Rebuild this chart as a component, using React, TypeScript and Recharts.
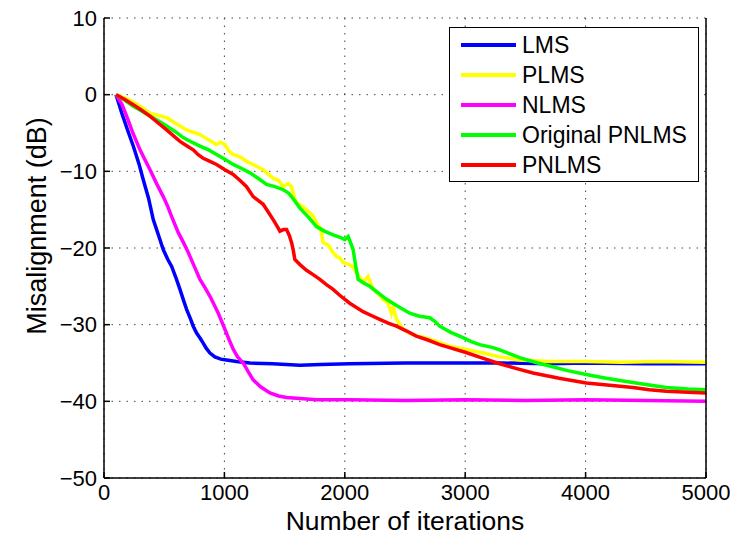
import React from 'react';
import { LineChart, Line, XAxis, YAxis, CartesianGrid, Legend, Label } from 'recharts';

const iterTicks = [0, 1000, 2000, 3000, 4000, 5000];
const dbTicks = [-50, -40, -30, -20, -10, 0, 10];

const lmsCurve: [number, number][] = [
  [100, 0], [150, -2.5], [200, -4.8], [243, -6.7], [290, -9], [326, -11.1], [370, -13.5], [409, -16.3],
  [450, -18.2], [492, -20.2], [530, -21.5], [562, -22.4], [600, -24], [631, -25.4], [660, -26.8],
  [686, -28], [720, -29.3], [741, -30.2], [769, -31.1], [800, -31.8], [824, -32.4], [850, -33.1],
  [880, -33.7], [921, -34.2], [970, -34.5], [1018, -34.6], [1100, -34.8], [1212, -35.0], [1400, -35.1],
  [1627, -35.3], [1800, -35.2], [2041, -35.1], [2500, -35.0], [3000, -35.0], [3300, -35.0],
  [3700, -35.1], [4000, -35.0], [4500, -35.1], [5000, -35.1],
];

const plmsCurve: [number, number][] = [
  [100, 0], [200, -0.6], [300, -1.5], [382, -2.4], [450, -2.7], [520, -3.0], [600, -3.8], [686, -4.6],
  [740, -4.9], [797, -5.2], [860, -5.8], [935, -6.5], [970, -6.2], [1004, -6.5], [1040, -7.4],
  [1073, -7.8], [1130, -8.1], [1184, -8.7], [1250, -9.2], [1322, -9.8], [1360, -10.3], [1405, -10.9],
  [1450, -11.2], [1488, -12.0], [1530, -11.6], [1558, -12.0], [1580, -13.3], [1599, -14.1],
  [1650, -14.6], [1710, -15.4], [1740, -15.9], [1765, -16.7], [1800, -17.5], [1820, -19.3],
  [1860, -19.6], [1903, -20.6], [1931, -21.1], [1960, -21.3], [1986, -21.9], [2041, -22.2],
  [2070, -22.5], [2097, -23.2], [2152, -24.5], [2193, -23.7], [2235, -25.4], [2280, -26.0],
  [2318, -26.7], [2359, -27.2], [2387, -28.5], [2400, -27.6], [2429, -29.3], [2484, -30.6],
  [2540, -31.1], [2594, -31.5], [2650, -31.6], [2705, -31.9], [2800, -32.4], [2871, -32.8],
  [3000, -33.2], [3150, -33.7], [3286, -34.2], [3450, -34.6], [3700, -34.8], [4000, -34.8],
  [4300, -34.9], [4600, -34.8], [5000, -34.9],
];

const nlmsCurve: [number, number][] = [
  [100, 0], [150, -1.3], [188, -2.8], [240, -5], [299, -7.2], [340, -8.5], [382, -9.8], [440, -11.7],
  [492, -13.3], [530, -14.6], [562, -15.9], [617, -18.0], [660, -19.3], [700, -20.6], [750, -22.4],
  [797, -24.1], [840, -25.2], [880, -26.3], [915, -27.4], [949, -28.5], [1004, -30.6], [1040, -32],
  [1073, -33.2], [1110, -34.2], [1156, -35.0], [1200, -36.2], [1239, -37.2], [1300, -38.1],
  [1378, -38.9], [1450, -39.3], [1516, -39.5], [1765, -39.8], [2041, -39.8], [2500, -39.9],
  [3000, -39.8], [3500, -39.9], [4000, -39.8], [4500, -39.9], [5000, -40.0],
];

const origPnlmsCurve: [number, number][] = [
  [100, 0], [170, -0.7], [243, -1.5], [310, -2.1], [382, -2.8], [450, -3.4], [520, -4.1], [590, -4.8],
  [658, -5.6], [730, -6.2], [797, -6.7], [870, -7.2], [935, -7.8], [1000, -8.4], [1073, -9.1],
  [1140, -9.6], [1212, -10.2], [1280, -10.9], [1350, -11.7], [1420, -12.0], [1488, -12.4],
  [1530, -12.8], [1558, -13.3], [1600, -14.2], [1627, -14.8], [1700, -16.0], [1765, -17.2],
  [1830, -17.8], [1903, -18.3], [1960, -18.6], [2000, -18.9], [2028, -18.5], [2050, -19.4],
  [2069, -20.2], [2090, -22.3], [2111, -24.1], [2160, -24.6], [2207, -25.0], [2280, -25.9],
  [2346, -26.7], [2440, -27.6], [2539, -28.5], [2620, -28.9], [2705, -29.1], [2750, -29.6],
  [2788, -30.2], [2880, -31.0], [2982, -31.7], [3050, -32.2], [3120, -32.6], [3231, -33.0],
  [3286, -33.3], [3452, -34.3], [3580, -34.9], [3701, -35.4], [3850, -36.0], [4006, -36.5],
  [4170, -37.0], [4338, -37.4], [4500, -37.8], [4670, -38.2], [4850, -38.4], [5000, -38.5],
];

const pnlmsCurve: [number, number][] = [
  [100, 0], [170, -0.6], [243, -1.3], [310, -2.0], [382, -2.8], [450, -3.7], [520, -4.6], [580, -5.4],
  [631, -6.1], [690, -6.7], [741, -7.2], [780, -7.8], [824, -8.3], [880, -8.7], [935, -9.1],
  [1004, -9.8], [1073, -10.4], [1130, -11.2], [1184, -12.0], [1239, -13.3], [1280, -13.8],
  [1322, -14.3], [1360, -15.2], [1405, -16.3], [1440, -17.2], [1461, -17.8], [1490, -17.6],
  [1516, -17.6], [1540, -18.4], [1558, -19.3], [1571, -20.2], [1585, -21.5], [1630, -22.2],
  [1682, -22.9], [1740, -23.5], [1793, -24.1], [1850, -24.8], [1903, -25.4], [1960, -26.2],
  [2041, -27.2], [2100, -27.8], [2152, -28.3], [2220, -28.8], [2290, -29.3], [2360, -29.8],
  [2429, -30.2], [2510, -30.8], [2594, -31.5], [2690, -32.0], [2788, -32.6], [2871, -33.0],
  [3000, -33.6], [3150, -34.4], [3286, -35.1], [3420, -35.7], [3563, -36.3], [3780, -37.0],
  [4006, -37.6], [4200, -37.9], [4393, -38.2], [4530, -38.5], [4670, -38.7], [4850, -38.8],
  [5000, -38.9],
];

const seriesNames = ['LMS', 'PLMS', 'NLMS', 'Original PNLMS', 'PNLMS'];
const seriesColors = ['#0000FF', '#FFFF00', '#FF00FF', '#00FF00', '#FF0000'];
const seriesCurves = [lmsCurve, plmsCurve, nlmsCurve, origPnlmsCurve, pnlmsCurve];

const toPoints = (c: [number, number][]) => c.map(([iter, db]) => ({ iter, db }));

const FONT = '"Liberation Sans", Arial, Helvetica, sans-serif';

const fmtDb = (v: number) => (v < 0 ? '\u2212' + Math.abs(v) : String(v));

const LegendBox = () => (
  <div
    style={{
      width: 248,
      height: 153,
      border: '1.5px solid #000',
      background: '#fff',
      boxSizing: 'content-box',
      position: 'relative',
      fontFamily: FONT,
    }}
  >
    {seriesNames.map((n, i) => (
      <div
        key={n}
        style={{ position: 'absolute', left: 0, top: 2 + i * 30, height: 30, display: 'flex', alignItems: 'center' }}
      >
        <div style={{ marginLeft: 11, width: 55, height: 4, background: seriesColors[i] }} />
        <span style={{ marginLeft: 6, fontSize: 23, color: '#000', lineHeight: '30px' }}>{n}</span>
      </div>
    ))}
  </div>
);

export default function App() {
  return (
    <div style={{ width: 738, height: 537, background: '#fff', margin: '-8px 0 0 -8px' }}>
      <LineChart
        width={738}
        height={537}
        margin={{ top: 18, right: 31, bottom: 9, left: 0 }}
        style={{ fontFamily: FONT }}
      >
        <CartesianGrid
          xAxisId="b"
          yAxisId="l"
          stroke="#444"
          strokeDasharray="1.5 6"
          strokeWidth={1}
          horizontalValues={dbTicks}
          verticalValues={iterTicks}
        />
        <XAxis
          xAxisId="b"
          dataKey="iter"
          type="number"
          domain={[0, 5000]}
          ticks={iterTicks}
          allowDataOverflow
          orientation="bottom"
          height={50}
          tickSize={-6}
          tickMargin={12}
          axisLine={{ stroke: '#000', strokeWidth: 1.5 }}
          tickLine={{ stroke: '#000', strokeWidth: 1.5 }}
          tick={{ fill: '#000', fontSize: 22, fontFamily: FONT }}
          interval={0}
        >
          <Label
            content={({ viewBox }: any) => (
              <text
                x={viewBox.x + viewBox.width / 2}
                y={viewBox.y + 52}
                textAnchor="middle"
                fontSize={26.5}
                fontFamily={FONT}
                fill="#000"
              >
                Number of iterations
              </text>
            )}
          />
        </XAxis>
        <XAxis
          xAxisId="t"
          dataKey="iter"
          type="number"
          domain={[0, 5000]}
          ticks={iterTicks}
          orientation="top"
          height={0}
          tickSize={-6}
          axisLine={{ stroke: '#000', strokeWidth: 1.5 }}
          tickLine={{ stroke: '#000', strokeWidth: 1.5 }}
          tick={() => <g />}
          interval={0}
        />
        <YAxis
          yAxisId="l"
          type="number"
          domain={[-50, 10]}
          ticks={dbTicks}
          allowDataOverflow
          width={104}
          tickSize={-6}
          tickMargin={13}
          axisLine={{ stroke: '#000', strokeWidth: 1.5 }}
          tickLine={{ stroke: '#000', strokeWidth: 1.5 }}
          tick={{ fill: '#000', fontSize: 22, fontFamily: FONT }}
          tickFormatter={fmtDb}
          interval={0}
        >
          <Label
            content={({ viewBox }: any) => {
              const cy = viewBox.y + viewBox.height / 2 - 22;
              return (
                <text
                  x={37}
                  y={cy}
                  textAnchor="middle"
                  dominantBaseline="central"
                  fontSize={27}
                  fontFamily={FONT}
                  fill="#000"
                  transform={`rotate(-90, 37, ${cy})`}
                >
                  Misalignment (dB)
                </text>
              );
            }}
          />
        </YAxis>
        <YAxis
          yAxisId="r"
          type="number"
          orientation="right"
          domain={[-50, 10]}
          ticks={dbTicks}
          width={1}
          tickSize={-6}
          axisLine={{ stroke: '#000', strokeWidth: 1.5 }}
          tickLine={{ stroke: '#000', strokeWidth: 1.5 }}
          tick={() => <g />}
          interval={0}
        />
        {seriesNames.map((n, i) => (
          <Line
            key={n}
            xAxisId="b"
            yAxisId="l"
            data={toPoints(seriesCurves[i])}
            dataKey="db"
            name={n}
            type="linear"
            stroke={seriesColors[i]}
            strokeWidth={3.5}
            dot={false}
            activeDot={false}
            isAnimationActive={false}
          />
        ))}
        <Legend
          layout="vertical"
          align="center"
          verticalAlign="middle"
          wrapperStyle={{ position: 'absolute', left: 449, top: 27, width: 251, height: 156 }}
          content={() => <LegendBox />}
        />
      </LineChart>
    </div>
  );
}
